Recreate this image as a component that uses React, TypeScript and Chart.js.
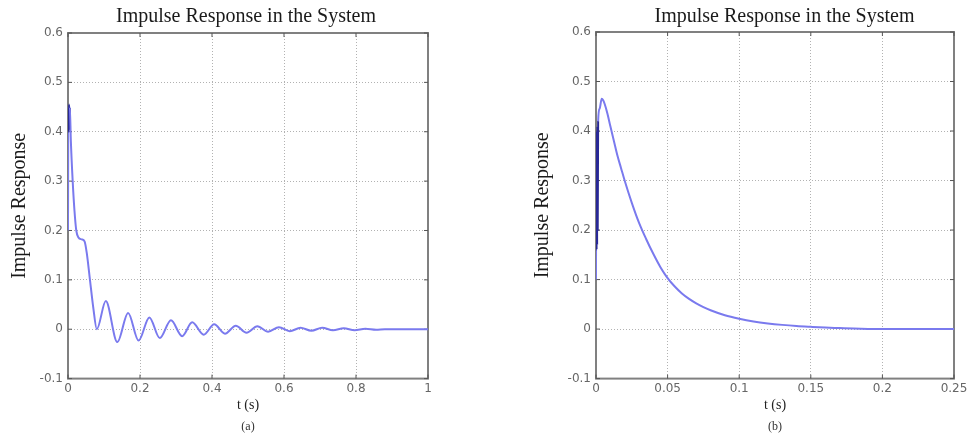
import React, { useEffect, useRef } from "react";
import { Chart, registerables } from "chart.js";

Chart.register(...registerables);

// ---------- DATA ----------
// Panel (a)
const tA = [
  0, 0.001, 0.002, 0.003, 0.004, 0.005, 0.008, 0.013, 0.018, 0.023, 0.029, 0.038, 0.046, 0.052,
  0.061, 0.07, 0.08, 0.105, 0.137, 0.167, 0.196, 0.226, 0.255, 0.286, 0.317, 0.345, 0.377,
  0.406, 0.436, 0.466, 0.496, 0.526, 0.556, 0.586, 0.616, 0.646, 0.676, 0.706, 0.736, 0.766,
  0.796, 0.826, 0.856, 0.88, 1.0,
];
const respA = [
  0.2, 0.45, 0.4, 0.455, 0.405, 0.45, 0.38, 0.3, 0.24, 0.2, 0.186, 0.182, 0.178, 0.155,
  0.1, 0.045, 0.0, 0.057, -0.026, 0.033, -0.023, 0.024, -0.018, 0.018, -0.014, 0.014, -0.011,
  0.01, -0.009, 0.007, -0.007, 0.006, -0.005, 0.004, -0.004, 0.003, -0.003, 0.003, -0.002, 0.002,
  -0.002, 0.001, -0.001, 0, 0,
];
const xTicksA = [0, 0.2, 0.4, 0.6, 0.8, 1];
const xLabelsA = ["0", "0.2", "0.4", "0.6", "0.8", "1"];

// Panel (b)
const tB = [
  0, 0.0002, 0.0004, 0.0006, 0.0008, 0.001, 0.0012, 0.0015, 0.0025, 0.004, 0.005, 0.006, 0.008,
  0.01, 0.0125, 0.015, 0.0175, 0.02, 0.025, 0.03, 0.035, 0.04, 0.045, 0.05, 0.055, 0.06, 0.065,
  0.07, 0.075, 0.08, 0.09, 0.1, 0.11, 0.12, 0.13, 0.14, 0.15, 0.16, 0.17, 0.18, 0.19, 0.2, 0.25,
];
const respB = [
  0.1, 0.38, 0.16, 0.4, 0.17, 0.41, 0.2, 0.42, 0.445, 0.465, 0.462, 0.455, 0.435,
  0.41, 0.38, 0.35, 0.325, 0.3, 0.255, 0.215, 0.182, 0.152, 0.125, 0.103, 0.086, 0.072, 0.061,
  0.052, 0.0445, 0.038, 0.028, 0.021, 0.0155, 0.0115, 0.0085, 0.0062, 0.0045, 0.003, 0.002, 0.001,
  0.0003, 0, 0,
];
const xTicksB = [0, 0.05, 0.1, 0.15, 0.2, 0.25];
const xLabelsB = ["0", "0.05", "0.1", "0.15", "0.2", "0.25"];

const yTicks = [-0.1, 0, 0.1, 0.2, 0.3, 0.4, 0.5, 0.6];
const yLabels = ["-0.1", "0", "0.1", "0.2", "0.3", "0.4", "0.5", "0.6"];

const chartTitle = "Impulse Response in the System";
const yTitle = "Impulse Response";
const xTitle = "t (s)";

// ---------- STYLE ----------
const LINE = "rgb(122,122,238)";
const DARK = "rgb(40,40,150)";
const SERIF = "'Liberation Serif', 'Times New Roman', serif";
const SANS = "'DejaVu Sans', sans-serif";

const framePlugin = {
  id: "frame",
  beforeDatasetsDraw(chart: any) {
    const { ctx, chartArea: a, scales } = chart;
    ctx.save();
    ctx.strokeStyle = "#808080";
    ctx.lineWidth = 2;
    ctx.strokeRect(a.left, a.top, a.right - a.left, a.bottom - a.top);
    ctx.strokeStyle = "#555";
    ctx.lineWidth = 1;
    const len = 4;
    const seg = (x1: number, y1: number, x2: number, y2: number) => {
      ctx.beginPath();
      ctx.moveTo(x1, y1);
      ctx.lineTo(x2, y2);
      ctx.stroke();
    };
    scales.x.ticks.forEach((t: any) => {
      const px = scales.x.getPixelForValue(t.value);
      seg(px, a.bottom, px, a.bottom - len);
      seg(px, a.top, px, a.top + len);
    });
    scales.y.ticks.forEach((t: any) => {
      const py = scales.y.getPixelForValue(t.value);
      seg(a.left, py, a.left + len, py);
      seg(a.right, py, a.right - len, py);
    });
    ctx.restore();
  },
};

interface PanelProps {
  t: number[];
  v: number[];
  xTicks: number[];
  xLabels: string[];
  xMax: number;
  tag: string;
  left: number;
  width: number;
  yAxisWidth: number;
  rightWidth: number;
  yTitlePad: number;
  titlePadBottom: number;
  darkEnd: number;
}

function Panel(p: PanelProps) {
  const ref = useRef<HTMLCanvasElement | null>(null);
  useEffect(() => {
    if (!ref.current) return;
    const data = p.t.map((x, i) => ({ x, y: p.v[i] }));
    const chart = new Chart(ref.current, {
      type: "line",
      data: {
        datasets: [
          {
            data,
            borderColor: LINE,
            borderWidth: 2,
            pointRadius: 0,
            cubicInterpolationMode: "monotone",
            segment: {
              borderColor: (c: any) =>
                c.p0.parsed.x > 0 && c.p1.parsed.x <= p.darkEnd ? DARK : LINE,
            },
          } as any,
        ],
      },
      plugins: [framePlugin],
      options: {
        animation: false,
        responsive: false,
        events: [],
        layout: { padding: 0 },
        plugins: {
          legend: { display: false },
          tooltip: { enabled: false },
          title: {
            display: true,
            text: chartTitle,
            color: "#1a1a1a",
            font: { family: SERIF, size: 20, weight: "normal" },
            padding: { top: 5, bottom: p.titlePadBottom },
          },
          subtitle: {
            display: true,
            text: p.tag,
            position: "bottom",
            fullSize: false,
            color: "#333",
            font: { family: SERIF, size: 12, weight: "normal" },
            padding: { top: 3.5, bottom: 0.5 },
          },
        },
        scales: {
          x: {
            type: "linear",
            min: 0,
            max: p.xMax,
            afterBuildTicks: (s: any) => {
              s.ticks = p.xTicks.map((value) => ({ value }));
            },
            afterFit: (s: any) => {
              s.height = 38;
            },
            ticks: {
              autoSkip: false,
              maxRotation: 0,
              padding: 3,
              color: "#666",
              font: { family: SANS, size: 12 },
              callback: (_v: any, i: number) => p.xLabels[i],
            },
            grid: { color: "rgba(0,0,0,0.3)", lineWidth: 1, drawTicks: false },
            border: { display: false, dash: [1, 2] },
            title: {
              display: true,
              text: xTitle,
              color: "#222",
              font: { family: SERIF, size: 14 },
              padding: { top: 0, bottom: 2.6 },
            },
          },
          y: {
            type: "linear",
            min: -0.1,
            max: 0.6,
            afterBuildTicks: (s: any) => {
              s.ticks = yTicks.map((value) => ({ value }));
            },
            afterFit: (s: any) => {
              s.width = p.yAxisWidth;
            },
            ticks: {
              padding: 5,
              color: "#666",
              font: { family: SANS, size: 12 },
              callback: (_v: any, i: number) => yLabels[i],
            },
            grid: { color: "rgba(0,0,0,0.3)", lineWidth: 1, drawTicks: false },
            border: { display: false, dash: [1, 2] },
            title: {
              display: true,
              text: yTitle,
              color: "#1a1a1a",
              font: { family: SERIF, size: 20 },
              padding: { top: p.yTitlePad, bottom: 0 },
            },
          },
          y2: {
            type: "linear",
            position: "right",
            display: true,
            grid: { display: false, drawTicks: false },
            border: { display: false },
            ticks: { display: false },
            afterFit: (s: any) => {
              s.width = p.rightWidth;
            },
          },
        },
      } as any,
    });
    return () => chart.destroy();
  }, []);
  return (
    <div style={{ position: "absolute", left: p.left, top: 0, width: p.width, height: 435 }}>
      <canvas ref={ref} width={p.width} height={435} style={{ display: "block" }} />
    </div>
  );
}

export default function App() {
  return (
    <div
      style={{
        position: "absolute",
        left: 0,
        top: 0,
        width: 971,
        height: 435,
        overflow: "hidden",
        background: "#fff",
      }}
    >
      <Panel
        t={tA}
        v={respA}
        xTicks={xTicksA}
        xLabels={xLabelsA}
        xMax={1}
        tag="(a)"
        left={0}
        width={492}
        yAxisWidth={68}
        rightWidth={64}
        yTitlePad={8}
        titlePadBottom={4}
        darkEnd={0.005}
      />
      <Panel
        t={tB}
        v={respB}
        xTicks={xTicksB}
        xLabels={xLabelsB}
        xMax={0.25}
        tag="(b)"
        left={520}
        width={529}
        yAxisWidth={76}
        rightWidth={95}
        yTitlePad={11}
        titlePadBottom={3}
        darkEnd={0.0015}
      />
    </div>
  );
}
